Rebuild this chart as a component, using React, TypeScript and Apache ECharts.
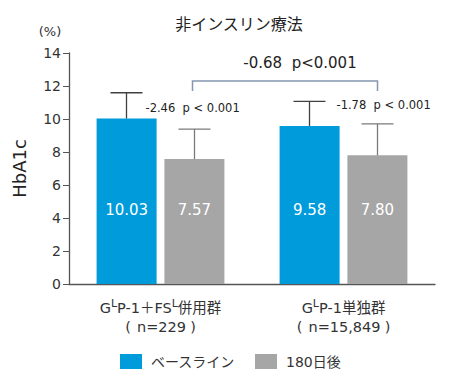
import React, { useEffect, useRef } from "react";
import * as echarts from "echarts";

const categories = ["GLP-1＋FSL併用群", "GLP-1単独群"];
const groupN = ["229", "15,849"];
const seriesNames = ["ベースライン", "180日後"];
const baseline = [10.03, 9.58];
const after180 = [7.57, 7.8];
const baselineSD = [1.56, 1.49];
const after180SD = [1.82, 1.9];
const yTicks = { min: 0, max: 14, interval: 2 };
const withinTexts = ["-2.46  p < 0.001", "-1.78  p < 0.001"];
const withinTextValues = [10.67, 10.85];
const betweenText = "-0.68  p<0.001";
const bracketTop = 12.3;
const bracketBottom = 11.7;
const betweenTextValue = 13.4;

const FONT = "'DejaVu Sans', 'Noto Sans CJK JP', sans-serif";
const BLUE = "#009BDB";
const GRAY = "#A6A6A6";
const BAR_W = 60;
const HALF = 34;

function errorSeries(values: number[], sd: number[], offset: number, color: string) {
  return {
    type: "custom",
    z: 5,
    silent: true,
    data: values.map((v, i) => [i, v, v + sd[i]]),
    renderItem: (params: any, api: any) => {
      const i = api.value(0);
      const p0 = api.coord([i, api.value(1)]);
      const p1 = api.coord([i, api.value(2)]);
      const x = p0[0] + offset;
      const st = { stroke: color, lineWidth: 1.3 };
      return {
        type: "group",
        children: [
          { type: "line", shape: { x1: x, y1: p0[1], x2: x, y2: p1[1] }, style: st },
          { type: "line", shape: { x1: x - 16, y1: p1[1], x2: x + 16, y2: p1[1] }, style: st },
        ],
      };
    },
  };
}

export default function App() {
  const ref = useRef<HTMLDivElement>(null);
  useEffect(() => {
    if (!ref.current) return;
    const chart = echarts.init(ref.current, undefined, { renderer: "svg" });
    const option: any = {
      animation: false,
      textStyle: { fontFamily: FONT },
      grid: { left: 69, right: 15, top: 53, bottom: 96 },
      graphic: [
        {
          type: "text",
          x: 239,
          y: 24.5,
          style: { text: "非インスリン療法", fontSize: 16, fill: "#222", fontFamily: FONT, align: "center", verticalAlign: "middle" },
        },
        {
          type: "text",
          x: 50,
          y: 31,
          style: { text: "(%)", fontSize: 13, fill: "#333", fontFamily: FONT, align: "center", verticalAlign: "middle" },
        },
      ],
      legend: {
        data: seriesNames,
        left: 120,
        top: 354,
        padding: 0,
        itemWidth: 22,
        itemHeight: 15,
        itemGap: 20,
        icon: "rect",
        textStyle: { fontSize: 14, color: "#333", fontFamily: FONT, padding: [0, 0, 0, 4] },
      },
      xAxis: {
        type: "category",
        data: categories,
        axisLine: { lineStyle: { color: "#555", width: 1.3 } },
        axisTick: { alignWithLabel: true, length: 5, lineStyle: { color: "#222" } },
        axisLabel: {
          interval: 0,
          margin: 14,
          color: "#333",
          fontSize: 14.5,
          lineHeight: 19,
          formatter: (name: string) => {
            const i = categories.indexOf(name);
            return name.replace(/L/g, "{s|L}") + "\n{pl|(}n=" + groupN[i] + "{pr|)}";
          },
          rich: {
            s: { fontSize: 11, verticalAlign: "top", color: "#333", fontFamily: FONT, lineHeight: 19 },
            pl: { fontSize: 14.5, color: "#333", fontFamily: FONT, lineHeight: 19, width: 12, align: "right", padding: [0, 3, 0, 0] },
            pr: { fontSize: 14.5, color: "#333", fontFamily: FONT, lineHeight: 19, width: 12, align: "left", padding: [0, 0, 0, 1] },
          },
        },
      },
      yAxis: {
        type: "value",
        min: yTicks.min,
        max: yTicks.max,
        interval: yTicks.interval,
        name: "HbA1c",
        nameLocation: "middle",
        nameRotate: 90,
        nameGap: 41,
        nameTextStyle: { fontSize: 18, color: "#222", fontFamily: FONT },
        axisLine: { show: true, lineStyle: { color: "#555", width: 1.3 } },
        axisTick: { show: true, length: 6, lineStyle: { color: "#555" } },
        axisLabel: { fontSize: 14, color: "#333", margin: 8 },
        splitLine: { show: false },
      },
      series: [
        {
          name: seriesNames[0],
          type: "bar",
          data: baseline,
          barWidth: BAR_W,
          barGap: "13%",
          itemStyle: { color: BLUE },
          label: { show: true, position: "insideBottom", distance: 67, color: "#fff", fontSize: 15, formatter: (p: any) => p.value.toFixed(2) },
        },
        {
          name: seriesNames[1],
          type: "bar",
          data: after180,
          barWidth: BAR_W,
          barGap: "13%",
          itemStyle: { color: GRAY },
          label: { show: true, position: "insideBottom", distance: 67, color: "#fff", fontSize: 15, formatter: (p: any) => p.value.toFixed(2) },
        },
        errorSeries(baseline, baselineSD, -HALF, "#404040"),
        errorSeries(after180, after180SD, HALF, "#7A7A7A"),
        {
          type: "custom",
          z: 6,
          silent: true,
          data: withinTextValues.map((v, i) => [i, v]),
          renderItem: (params: any, api: any) => {
            const i = api.value(0);
            const p = api.coord([i, api.value(1)]);
            const dx = i === 0 ? -15 : -7;
            return {
              type: "text",
              x: p[0] + dx,
              y: p[1],
              style: { text: withinTexts[params.dataIndex], fontSize: 11.5, fill: "#222", fontFamily: FONT, align: "left", verticalAlign: "middle" },
            };
          },
        },
        {
          type: "custom",
          z: 6,
          silent: true,
          data: [[0, bracketTop, bracketBottom, betweenTextValue]],
          renderItem: (params: any, api: any) => {
            const a = api.coord([0, api.value(1)]);
            const b = api.coord([1, api.value(2)]);
            const t = api.coord([0, api.value(3)]);
            const x1 = a[0] + HALF - 2;
            const x2 = b[0] + HALF;
            const st = { stroke: "#8497B0", lineWidth: 1.5, fill: "none" };
            return {
              type: "group",
              children: [
                { type: "polyline", shape: { points: [[x1, b[1]], [x1, a[1]], [x2, a[1]], [x2, b[1]]] }, style: st },
                {
                  type: "text",
                  x: (x1 + x2) / 2 + 15,
                  y: t[1],
                  style: { text: betweenText, fontSize: 15, fill: "#222", fontFamily: FONT, align: "center", verticalAlign: "middle" },
                },
              ],
            };
          },
        },
      ],
    };
    chart.setOption(option);
    return () => chart.dispose();
  }, []);
  return <div ref={ref} style={{ width: 450, height: 380, position: "absolute", left: 0, top: 0 }} />;
}
